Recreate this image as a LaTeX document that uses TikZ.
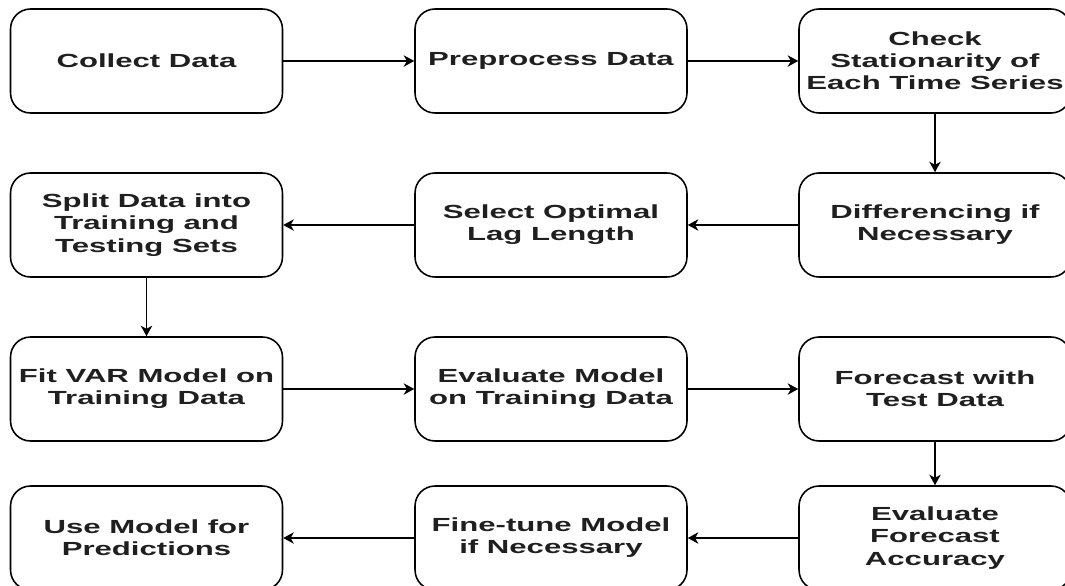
\documentclass[tikz,border=0pt]{standalone}
\usepackage{fontspec}
\setmainfont{Liberation Sans}[FakeStretch=1.64]
\usetikzlibrary{arrows.meta}
\begin{document}
\begin{tikzpicture}[x=0.02cm,y=-0.02cm,
    stepbox/.style={draw, line width=0.9pt, rounded corners=0.4cm, minimum width=5.44cm, minimum height=2.08cm, inner sep=2pt, align=center, text=black!88, font=\bfseries\fontsize{10.8}{12.6}\selectfont},
    flow/.style={-{Stealth[length=6pt,width=6.5pt,inset=1.8pt]}, line width=0.8pt}]
    \useasboundingbox (0,0) rectangle (1065,585);
    % first row
    \node[stepbox] (collect) at (146.5,61) {Collect Data};
    \node[stepbox] (prep) at (551,61) {Preprocess Data};
    \node[stepbox] (check) at (935,61) {Check\\Stationarity of\\Each Time Series};
    % second row
    \node[stepbox] (diff) at (935,225) {Differencing if\\Necessary};
    \node[stepbox] (lag) at (551,225) {Select Optimal\\Lag Length};
    \node[stepbox] (split) at (146.5,225) {Split Data into\\Training and\\Testing Sets};
    % third row
    \node[stepbox] (fit) at (146.5,389) {Fit VAR Model on\\Training Data};
    \node[stepbox] (evalmodel) at (551,389) {Evaluate Model\\on Training Data};
    \node[stepbox] (forecast) at (935,389) {Forecast with\\Test Data};
    % fourth row
    \node[stepbox] (accuracy) at (935,538) {Evaluate\\Forecast\\Accuracy};
    \node[stepbox] (tune) at (551,538) {Fine-tune Model\\if Necessary};
    \node[stepbox] (use) at (146.5,538) {Use Model for\\Predictions};
    % connectors
    \draw[flow] (collect) -- (prep);
    \draw[flow] (prep) -- (check);
    \draw[flow] (check) -- (diff);
    \draw[flow] (diff) -- (lag);
    \draw[flow] (lag) -- (split);
    \draw[flow] (split) -- (fit);
    \draw[flow] (fit) -- (evalmodel);
    \draw[flow] (evalmodel) -- (forecast);
    \draw[flow] (forecast) -- (accuracy);
    \draw[flow] (accuracy) -- (tune);
    \draw[flow] (tune) -- (use);
\end{tikzpicture}
\end{document}
